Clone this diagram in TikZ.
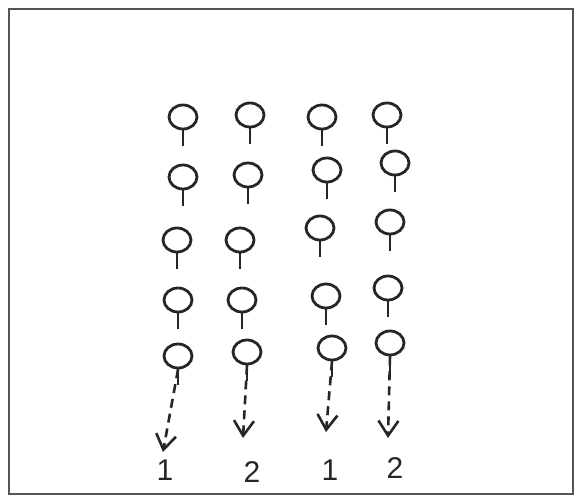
\documentclass[tikz,border=0pt]{standalone}
\usepackage{fontspec}
\usepackage{xcolor}
\usepackage{tikz}
\usetikzlibrary{arrows.meta, shapes.geometric}
\newfontfamily\mainlevee{Liberation Sans}
\definecolor{crayon}{HTML}{262626}
\definecolor{bordure}{HTML}{555555}
\tikzset{
  tete/.style={ellipse, draw=crayon, line width=2.8pt, minimum width=28pt,
    minimum height=24pt, inner sep=0pt},
  tige/.style={draw=crayon, line width=2.6pt},
  fleche/.style={-{Straight Barb[length=15pt, width=20pt, line width=2.6pt]},
    dash pattern=on 9pt off 6pt, line width=2.6pt, color=crayon},
  chiffre/.style={font=\mainlevee\fontsize{30}{30}\selectfont, text=crayon},
  cadre/.style={draw=bordure, line width=2pt}
}

\begin{document}
\begin{tikzpicture}[x=1pt, y=-1pt]
    \useasboundingbox (0,0) rectangle (580,500);
    \draw[cadre] (9,9) rectangle (573,494);

    % les tetes, rangee par rangee
    \foreach \x/\y [count=\i] in {183/117, 250/115, 322/117, 387/115,
        183/177, 248/175, 327/170, 395/163,
        177/240, 240/240, 320/228, 390/222,
        178/300, 242/300, 326/296, 388/288,
        178/356, 247/352, 332/348, 390/343}
      {\node[tete] (t\i) at (\x,\y) {};
       \draw[tige] (t\i.south) -- ++(0,16);}

    \node[chiffre] (c1) at (165,470) {1};
    \node[chiffre] (c2) at (252,472) {2};
    \node[chiffre] (c3) at (330,470) {1};
    \node[chiffre] (c4) at (395,468) {2};

    \coordinate (p1) at (163,452);
    \coordinate (p2) at (243,438);
    \coordinate (p3) at (326,432);
    \coordinate (p4) at (388,438);

    \draw[fleche] (t17.south) -- (p1);
    \draw[fleche] (t18.south) -- (p2);
    \draw[fleche] (t19.south) -- (p3);
    \draw[fleche] (t20.south) -- (p4);
  \end{tikzpicture}
\end{document}
